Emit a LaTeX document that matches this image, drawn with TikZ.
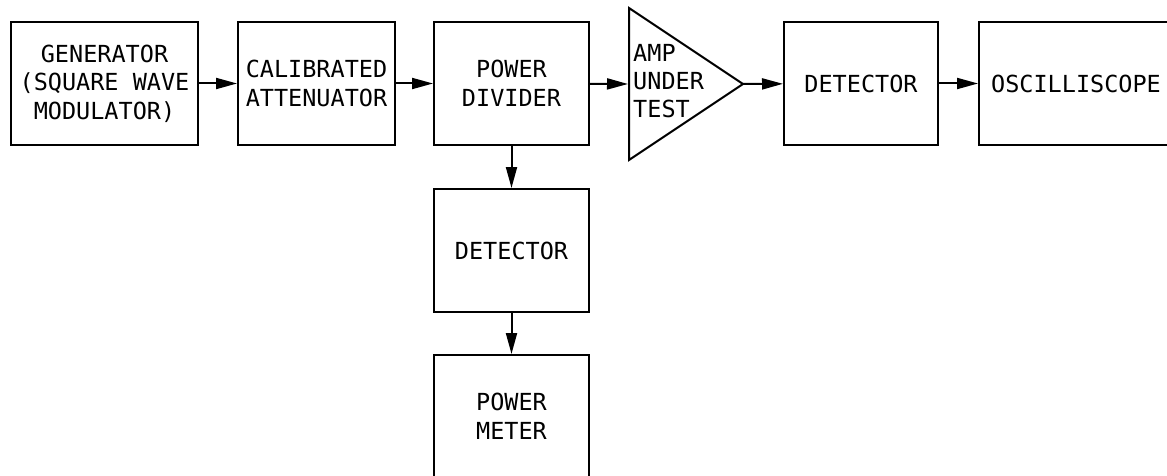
\documentclass[tikz,border=0pt]{standalone}
\usepackage{fontspec}
\newfontfamily\cadfont{DejaVu Sans Mono}
\usetikzlibrary{arrows.meta}
\begin{document}
\begin{tikzpicture}[x=1pt,y=-1pt,
  blk/.style={draw, line width=2pt, minimum height=123pt, inner sep=0pt, align=center,
    font=\cadfont\fontsize{23.5}{28.5}\selectfont},
  conn/.style={line width=2pt, -{Triangle[length=21pt,width=11pt]}}]
\useasboundingbox (0,0) rectangle (1167,476);
\clip (0,0) rectangle (1167,476);
\node[blk, minimum width=187pt] (gen) at (104.5,83.5) {GENERATOR\\(SQUARE WAVE\\MODULATOR)};
\node[blk, minimum width=157pt] (att) at (316.5,83.5) {CALIBRATED\\ATTENUATOR};
\node[blk, minimum width=155pt] (div) at (511.5,83.5) {POWER\\DIVIDER};
\coordinate (ampA) at (629,8);
\coordinate (ampB) at (629,160);
\coordinate (ampC) at (743,84);
\coordinate (ampIn) at (628,84);
\draw[line width=2pt, line join=miter] (ampA) -- (ampC) -- (ampB) -- cycle;
\node[anchor=west, align=left, inner sep=0pt, font=\cadfont\fontsize{23.5}{28}\selectfont] (amp) at (633,81) {AMP\\UNDER\\TEST};
\node[blk, minimum width=154pt] (det) at (861,83.5) {DETECTOR};
\node[blk, minimum width=194pt] (osc) at (1076,83.5) {OSCILLISCOPE};
\node[blk, minimum width=155pt] (det2) at (511.5,250.5) {DETECTOR};
\node[blk, minimum width=155pt] (pm) at (511.5,416.5) {POWER\\METER};
\draw[conn] (gen) -- (att);
\draw[conn] (att) -- (div);
\draw[conn] (div) -- (ampIn);
\draw[conn] (ampC) -- (det);
\draw[conn] (det) -- (osc);
\draw[conn] (div) -- (det2);
\draw[conn] (det2) -- (pm);
\end{tikzpicture}
\end{document}
